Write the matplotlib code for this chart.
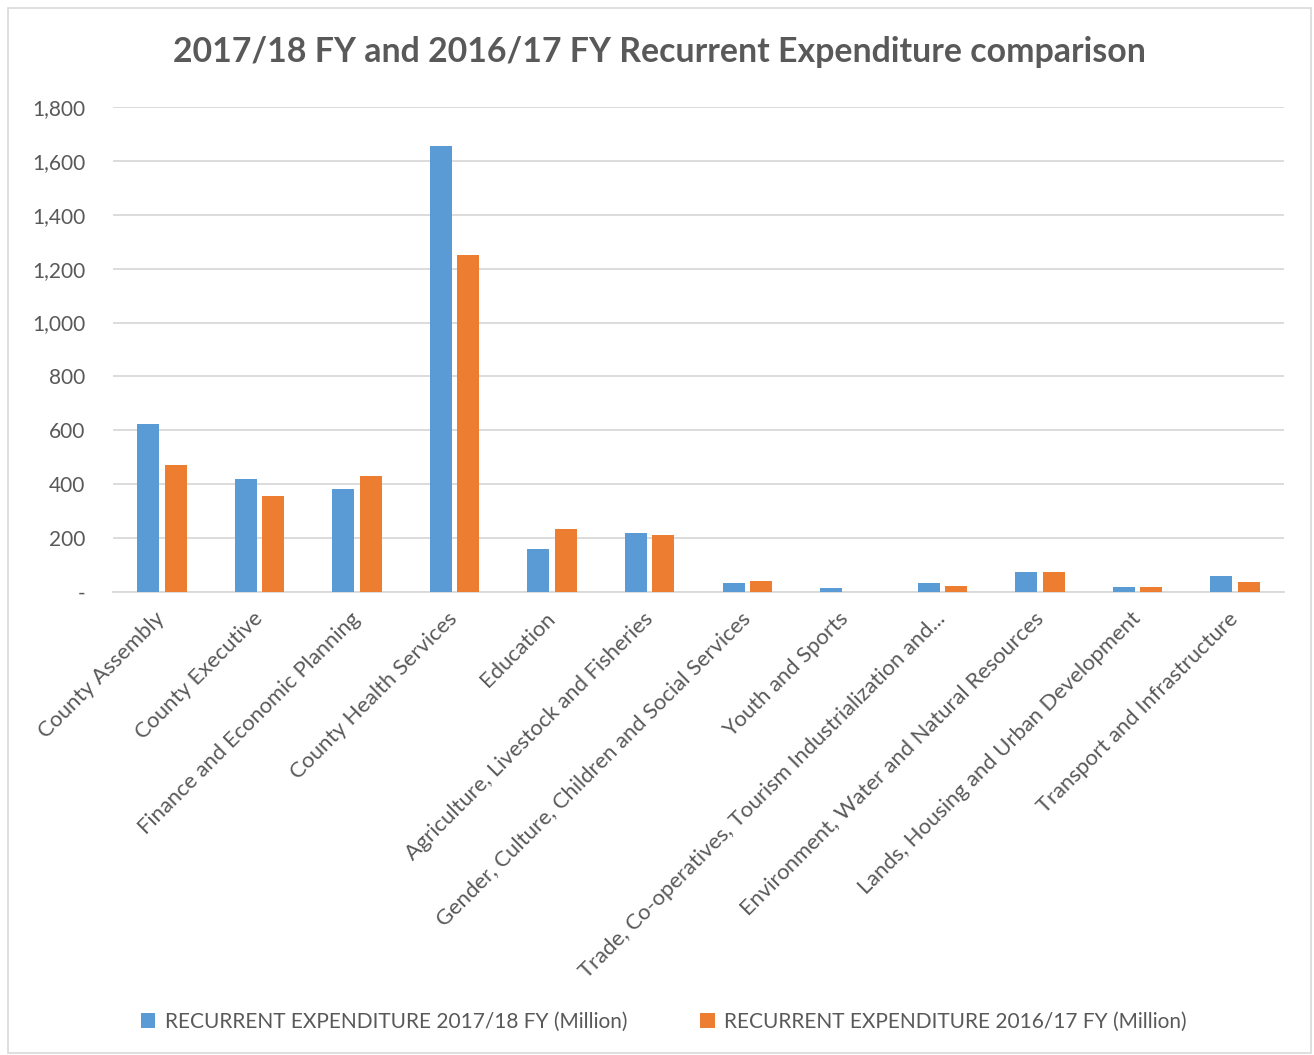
import matplotlib.pyplot as plt
import matplotlib.patches as patches
import numpy as np

# Departments
categories = [
    'County Assembly',
    'County Executive',
    'Finance and Economic Planning',
    'County Health Services',
    'Education',
    'Agriculture, Livestock and Fisheries',
    'Gender, Culture, Children and Social Services',
    'Youth and Sports',
    'Trade, Co-operatives, Tourism Industrialization and...',
    'Environment, Water and Natural Resources',
    'Lands, Housing and Urban Development',
    'Transport and Infrastructure',
]

# Recurrent expenditure (Million)
fy_2017_18 = [623, 421, 382, 1656, 161, 219, 35, 13, 35, 74, 20, 59]
fy_2016_17 = [471, 356, 429, 1249, 234, 212, 42, 0, 21, 75, 19, 38]

series_labels = ['RECURRENT EXPENDITURE 2017/18 FY (Million)',
                 'RECURRENT EXPENDITURE 2016/17 FY (Million)']
yticks = [0, 200, 400, 600, 800, 1000, 1200, 1400, 1600, 1800]

plt.rcParams['font.family'] = ['Lato', 'DejaVu Sans']
text_col = '#595959'
grid_col = '#D9D9D9'

fig = plt.figure(figsize=(13.14, 10.55), dpi=100)
ax = fig.add_axes([113 / 1314, 1 - 592 / 1055, (1284 - 113) / 1314, (592 - 107) / 1055])

# chart border
fig.patches.append(patches.Rectangle((8 / 1314, 2 / 1055), 1303 / 1314, 1045 / 1055,
                                     transform=fig.transFigure, fill=False,
                                     edgecolor=grid_col, linewidth=1.2))

x = np.arange(len(categories))
barWidth = 0.225
off = 0.141
ax.bar(x - off, fy_2017_18, width=barWidth, color='#5B9BD5', label=series_labels[0], zorder=3)
ax.bar(x + off, fy_2016_17, width=barWidth, color='#ED7D31', label=series_labels[1], zorder=3)

ax.set_xlim(-0.5, len(categories) - 0.5)
ax.set_ylim(0, 1800)
ax.set_yticks(yticks)
ax.set_yticklabels(['-' if v == 0 else f'{v:,}' for v in yticks], fontsize=15, color=text_col)
ax.yaxis.grid(True, color=grid_col, linewidth=1.3, zorder=0)
ax.tick_params(axis='y', length=0, pad=20)
ax.tick_params(axis='x', length=0, pad=17)

ax.set_xticks(x)
ax.set_xticklabels(categories, rotation=45, ha='right', va='center',
                   rotation_mode='anchor', fontsize=15.8, color=text_col)

for s in ['top', 'right', 'left']:
    ax.spines[s].set_visible(False)
ax.spines['bottom'].set_color(grid_col)
ax.spines['bottom'].set_linewidth(1.3)

fig.text(0.502, 1 - 52 / 1055, '2017/18 FY and 2016/17 FY Recurrent Expenditure comparison',
         ha='center', va='center', fontsize=24.4, fontweight='bold', color=text_col)

fig.legend(loc='center', bbox_to_anchor=(0.505, 1 - 1022 / 1055), ncol=2, frameon=False,
           fontsize=15, handlelength=0.7, handleheight=0.7, columnspacing=3.5,
           handletextpad=0.45, labelcolor=text_col)

fig.savefig('out.png', dpi=100)
